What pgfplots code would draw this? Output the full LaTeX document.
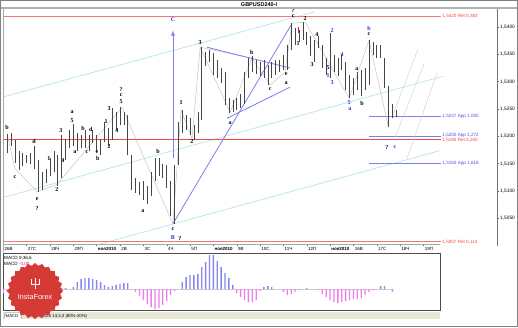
\documentclass[border=0pt]{standalone}
\usepackage{pgfplots}
\pgfplotsset{compat=1.18}
\usepackage{pgfplotstable}
\usepackage{fontspec}
\setmainfont{Liberation Sans}
\newfontfamily\wserif{Liberation Serif}
\usetikzlibrary{shapes.geometric}

\definecolor{barc}{RGB}{70,70,70}
\definecolor{wblue}{RGB}{50,50,225}
\definecolor{tblue}{RGB}{80,80,235}
\definecolor{lblue}{RGB}{125,125,240}
\definecolor{lcyan}{RGB}{175,225,225}
\definecolor{lred}{RGB}{240,120,120}
\definecolor{rred}{RGB}{245,70,70}
\definecolor{mpos}{RGB}{135,135,238}
\definecolor{mneg}{RGB}{238,125,238}
\definecolor{badge}{RGB}{214,58,52}
\definecolor{strip}{RGB}{232,230,212}

\newcommand{\wl}[4][black]{\node[text=#1,font=\wserif\bfseries\fontsize{6}{6}\selectfont,inner sep=0pt] at (axis cs:#2,#3) {#4};}
\newcommand{\lv}[3][tblue]{\node[text=#1,anchor=west,font=\fontsize{4.6}{5}\selectfont,inner sep=0.5pt] at (axis cs:112.7,#2) {#3};}

\pgfplotstableread{
i hi lo
0 1.5187 1.5171
1 1.5205 1.5169
2 1.5207 1.5182
3 1.5193 1.5152
4 1.5174 1.5138
5 1.5169 1.5145
6 1.5165 1.5152
7 1.5169 1.5150
8 1.5183 1.5141
9 1.5156 1.5099
10 1.5134 1.5101
11 1.5141 1.5114
12 1.5160 1.5128
13 1.5174 1.5134
14 1.5165 1.5110
15 1.5202 1.5123
16 1.5196 1.5156
17 1.5211 1.5178
18 1.5222 1.5183
19 1.5207 1.5174
20 1.5202 1.5178
21 1.5211 1.5178
22 1.5202 1.5174
23 1.5211 1.5187
24 1.5202 1.5171
25 1.5196 1.5165
26 1.5226 1.5189
27 1.5215 1.5182
28 1.5251 1.5193
29 1.5244 1.5211
30 1.5253 1.5220
31 1.5244 1.5220
32 1.5239 1.5165
33 1.5165 1.5101
34 1.5123 1.5097
35 1.5116 1.5092
36 1.5119 1.5083
37 1.5110 1.5077
38 1.5134 1.5090
39 1.5161 1.5119
40 1.5160 1.5128
41 1.5150 1.5123
42 1.5147 1.5106
43 1.5119 1.5055
44 1.5147 1.5040
45 1.5226 1.5147
46 1.5248 1.5207
47 1.5239 1.5211
48 1.5233 1.5202
49 1.5220 1.5194
50 1.5244 1.5207
51 1.5363 1.5229
52 1.5354 1.5328
53 1.5358 1.5336
54 1.5352 1.5312
55 1.5339 1.5306
56 1.5325 1.5297
57 1.5317 1.5257
58 1.5270 1.5242
59 1.5266 1.5244
60 1.5270 1.5248
61 1.5277 1.5251
62 1.5317 1.5259
63 1.5343 1.5306
64 1.5347 1.5317
65 1.5339 1.5314
66 1.5336 1.5310
67 1.5339 1.5306
68 1.5330 1.5294
69 1.5336 1.5306
70 1.5339 1.5312
71 1.5339 1.5317
72 1.5349 1.5321
73 1.5367 1.5321
74 1.5407 1.5358
75 1.5398 1.5367
76 1.5394 1.5372
77 1.5409 1.5376
78 1.5391 1.5367
79 1.5383 1.5347
80 1.5376 1.5336
81 1.5383 1.5361
82 1.5367 1.5325
83 1.5343 1.5312
84 1.5389 1.5306
85 1.5349 1.5317
86 1.5343 1.5310
87 1.5349 1.5321
88 1.5336 1.5284
89 1.5312 1.5270
90 1.5306 1.5275
91 1.5317 1.5284
92 1.5321 1.5273
93 1.5325 1.5284
94 1.5376 1.5294
95 1.5372 1.5349
96 1.5367 1.5343
97 1.5367 1.5343
98 1.5343 1.5288
99 1.5292 1.5217
100 1.5259 1.5233
101 1.5248 1.5235
}\bars

\pgfplotstableread{
i v
4 0.0001
5 0.0002
6 0.0002
7 0.0001
8 0.0001
15 0.0001
16 0.0001
18 0.0002
19 0.0007
20 0.0010
21 0.0011
22 0.0011
23 0.0010
24 0.0009
25 0.0007
26 0.0004
27 0.0002
28 0.0003
29 0.0004
30 0.0005
31 0.0006
32 0.0006
46 0.0007
47 0.0012
48 0.0014
49 0.0014
50 0.0015
51 0.0022
52 0.0027
53 0.0034
54 0.0034
55 0.0028
56 0.0022
57 0.0016
58 0.0011
59 0.0004
67 0.0002
68 0.0003
69 0.0002
78 0.0001
97 0.0003
98 0.0003
}\macdpos

\pgfplotstableread{
i v
0 -0.0004
1 -0.0003
2 -0.0002
3 -0.0001
9 -0.0001
10 -0.0003
11 -0.0004
12 -0.0003
13 -0.0002
14 -0.0001
34 -0.0003
35 -0.0007
36 -0.0011
37 -0.0015
38 -0.0018
39 -0.0020
40 -0.0019
41 -0.0016
42 -0.0012
43 -0.0006
44 -0.0002
60 -0.0004
61 -0.0008
62 -0.0011
63 -0.0013
64 -0.0013
65 -0.0011
66 -0.0002
72 -0.0003
73 -0.0006
74 -0.0005
75 -0.0003
76 -0.0001
81 -0.0001
82 -0.0005
83 -0.0008
84 -0.0011
85 -0.0013
86 -0.0014
87 -0.0013
88 -0.0012
89 -0.0011
90 -0.0010
91 -0.0010
92 -0.0009
93 -0.0006
94 -0.0003
95 -0.0001
100 -0.0003
}\macdneg

\begin{document}
\begin{tikzpicture}
\path[use as bounding box, fill=white] (0pt,0pt) rectangle (518pt,-327pt);
\draw[gray!60, line width=1.5pt] (0pt,-8pt) -- (518pt,-8pt);
\node[font=\bfseries\fontsize{5.5}{6}\selectfont, inner sep=0pt] at (259pt,-4.2pt) {GBPUSD240-I};

\begin{axis}[
  at={(3pt,-244pt)}, anchor=south west,
  scale only axis, width=494pt, height=235pt,
  xmin=-0.08, xmax=126.9, ymin=1.5003, ymax=1.5433,
  axis line style={draw=none},
  xtick={0,6,12,18,24,30,36,42,48,54,60,66,72,78,84,90,96,102,108},
  xticklabels={26В,27С,28Ч,29П,\textbf{ноя2010},2В,3С,4Ч,5П,\textbf{ноя2010},9В,10С,11Ч,12П,\textbf{ноя2010},16В,17С,18Ч,19П},
  xtick pos=lower, ytick pos=upper, yticklabel pos=upper,
  tick align=outside, major tick length=2pt,
  tick style={black!60, line width=0.4pt},
  xticklabel style={anchor=north west, xshift=0.3pt, font=\fontsize{4.5}{5}\selectfont, inner sep=0.8pt},
  ytick={1.505,1.51,1.515,1.52,1.525,1.53,1.535,1.54},
  scaled y ticks=false,
  yticklabel style={font=\fontsize{4.8}{5}\selectfont, inner sep=1pt, /pgf/number format/.cd, fixed, fixed zerofill, precision=4, use comma, 1000 sep={}},
  /pgf/number format/assume math mode=true,
]
% channel lines
\addplot[lcyan, line width=0.6pt] coordinates {(-0.08,1.5272) (80.1,1.5428)};
\addplot[lcyan, line width=0.6pt] coordinates {(-0.08,1.5088) (113.0,1.5310)};
\addplot[lcyan, line width=0.6pt] coordinates {(24.4,1.5002) (112.3,1.5174)};
% red retracement levels
\addplot[lred, line width=1pt] coordinates {(-0.08,1.5420) (112.5,1.5420)};
\addplot[rred, line width=0.8pt] coordinates {(-0.08,1.5195) (112.5,1.5195)};
\addplot[lred, line width=1pt] coordinates {(-0.08,1.5007) (112.5,1.5007)};
% blue projection levels
\addplot[lblue, line width=1pt] coordinates {(94.0,1.5237) (112.5,1.5237)};
\addplot[lblue, line width=1pt] coordinates {(94.0,1.5200) (112.5,1.5200)};
\addplot[lblue, line width=1pt] coordinates {(94.0,1.5150) (112.5,1.5150)};
% wave connector
\addplot[gray!45, line width=0.5pt] coordinates {(0.95,1.5205) (3.0,1.5141) (8.7,1.5099) (13.8,1.5112) (30.5,1.5253) (43.6,1.5040) (45.7,1.5248) (48.5,1.5196) (50.6,1.5363) (58.3,1.5244) (63.9,1.5343) (68.6,1.5294) (72.4,1.5317) (74.2,1.5407) (77.6,1.5409) (88.9,1.5270) (94.0,1.5376) (98.9,1.5220)};
\addplot[gray!45, line width=0.5pt] coordinates {(50.6,1.5363) (63.9,1.5343)};
% future lines
\addplot[gray!40, line width=0.4pt] coordinates {(99.9,1.5235) (106.6,1.5360)};
\addplot[gray!40, line width=0.4pt] coordinates {(100.7,1.5198) (108.1,1.5332)};
\addplot[gray!40, line width=0.4pt] coordinates {(103.8,1.5160) (111.5,1.5317)};
% blue wave lines
\addplot[lblue, line width=0.8pt, -latex] coordinates {(43.6,1.5161) (43.6,1.5394)};
\addplot[lblue, line width=0.8pt] coordinates {(43.6,1.5040) (74.0,1.5404)};
\addplot[lblue, line width=0.8pt] coordinates {(52.4,1.5363) (73.7,1.5325)};
\addplot[lblue, line width=0.8pt] coordinates {(57.5,1.5233) (73.7,1.5290)};
% price bars (high-low)
\addplot[draw=none, no markers, error bars/.cd, y dir=plus, y explicit, error mark=none, error bar style={draw=barc, line width=0.65pt}]
  table[x=i, y=lo, y error plus expr=\thisrow{hi}-\thisrow{lo}] {\bars};
\addplot[magenta, line width=0.9pt] coordinates {(75.8,1.5400) (75.8,1.5389)};
% wave labels
\wl{0.95}{1.5217}{b}
\wl{3.0}{1.5125}{c}
\wl{7.9}{1.5191}{d}
\wl{8.7}{1.5086}{e}
\wl{8.7}{1.5068}{?}
\wl{11.7}{1.5160}{1}
\wl{13.8}{1.5103}{2}
\wl{14.8}{1.5211}{3}
\wl{15.3}{1.5156}{4}
\wl{17.7}{1.5244}{a}
\wl{17.7}{1.5228}{5}
\wl{18.4}{1.5171}{a}
\wl{20.5}{1.5215}{b}
\wl{21.5}{1.5172}{c}
\wl{22.5}{1.5213}{d}
\wl{24.1}{1.5172}{e}
\wl{24.3}{1.5160}{b}
\wl{26.4}{1.5228}{1}
\wl{27.2}{1.5182}{2}
\wl{27.2}{1.5250}{3}
\wl{29.2}{1.5211}{4}
\wl{30.3}{1.5264}{5}
\wl{30.3}{1.5275}{c}
\wl{30.3}{1.5286}{?}
\wl{35.9}{1.5064}{a}
\wl{39.8}{1.5172}{b}
\wl{43.6}{1.5031}{c}
\wl[wblue]{43.6}{1.5015}{B}
\wl{45.4}{1.5013}{?}
\wl[wblue]{43.6}{1.5413}{C}
\wl{45.7}{1.5261}{1}
\wl{48.5}{1.5191}{2}
\wl{50.6}{1.5372}{3}
\wl{58.3}{1.5224}{a}
\wl{63.9}{1.5354}{b}
\wl{68.6}{1.5286}{c}
\wl{72.7}{1.5314}{e}
\wl{72.7}{1.5297}{a}
\wl{74.5}{1.5420}{c}
\wl{74.5}{1.5431}{?}
\wl{75.8}{1.5369}{1}
\wl{77.6}{1.5415}{2}
\wl{79.4}{1.5332}{3}
\wl{80.6}{1.5387}{4}
\wl{83.5}{1.5325}{5}
\wl[wblue]{83.5}{1.5312}{1}
\wl[wblue]{84.5}{1.5299}{3}
\wl[wblue]{84.5}{1.5394}{2}
\wl[wblue]{87.1}{1.5350}{4}
\wl[wblue]{88.9}{1.5262}{5}
\wl[wblue]{89.1}{1.5250}{a}
\wl{90.9}{1.5323}{a}
\wl{92.2}{1.5261}{b}
\wl{94.0}{1.5387}{c}
\wl[wblue]{94.0}{1.5398}{b}
\wl{98.6}{1.5180}{?}
\wl[wblue]{100.7}{1.5180}{c}
% level labels
\lv[rred]{1.5420}{1,5420 Ret 0,382}
\lv{1.5237}{1,5237 App 1,000}
\lv[rred]{1.5193}{1,5195 Ret 0,250}
\lv{1.5201}{1,5200 App 1,272}
\lv{1.5150}{1,5150 App 1,618}
\lv[rred]{1.5007}{1,5007 Ret 0,114}
\node[fill=yellow, anchor=west, font=\fontsize{4.8}{5}\selectfont, inner sep=0.7pt] at (axis cs:126.9,1.5237) {1,5237};
\end{axis}

% frame lines of the price window
\draw[black!55, line width=0.5pt] (497pt,-9pt) -- (497pt,-246pt);
\draw[black!35, line width=0.5pt] (3pt,-244pt) -- (440pt,-244pt);
\draw[black!35, line width=0.5pt] (3pt,-9pt) -- (3pt,-252pt);

% MACD window
\begin{axis}[
  at={(3pt,-310pt)}, anchor=south west,
  scale only axis, width=437pt, height=57pt,
  xmin=-0.08, xmax=112.26, ymin=-0.0021, ymax=0.0036,
  xtick=\empty, ytick=\empty,
  axis line style={black!70, line width=0.5pt},
]
\addplot[gray!40, line width=0.4pt] coordinates {(-0.08,0) (100.5,0)};
\addplot[ybar, bar width=1.4pt, bar shift=0pt, fill=mpos, draw=none] table[x=i, y=v] {\macdpos};
\addplot[ybar, bar width=1.3pt, bar shift=0pt, fill=mneg, draw=none] table[x=i, y=v] {\macdneg};
\end{axis}
\node[anchor=west, font=\fontsize{4.6}{5}\selectfont, inner sep=0pt] at (4pt,-258pt) {MACD 9,36,6};
\node[anchor=west, font=\fontsize{4.6}{5}\selectfont, inner sep=0pt] at (4pt,-264pt) {MACD \textcolor{magenta}{-0,00}};

% bottom tab strip
\fill[strip] (3pt,-312pt) rectangle (440pt,-319pt);
\draw[black!50, line width=0.4pt, fill=white] (4pt,-319pt) -- (5pt,-312.5pt) -- (20pt,-312.5pt) -- (22pt,-319pt);
\node[anchor=west, font=\fontsize{4.3}{5}\selectfont, inner sep=0pt] at (5.5pt,-316pt) {MACD};
\node[anchor=west, font=\fontsize{4.3}{5}\selectfont, inner sep=0pt] at (40pt,-316pt) {Stoch 13,3,3 (80\%-20\%)};

% badge
\node[star, star points=24, star point ratio=1.1, fill=badge, minimum size=56pt, inner sep=0pt] at (35pt,-291pt) {};
\draw[white, line width=0.9pt] (31pt,-279pt) -- (31pt,-284pt) -- (39pt,-284pt) -- (39pt,-279pt);
\draw[white, line width=0.9pt] (35pt,-278pt) -- (35pt,-289pt);
\node[text=white, font=\fontsize{7.3}{8}\selectfont, inner sep=0pt] at (35pt,-297pt) {InstaForex};

\draw[black!50, line width=0.8pt] (0.4pt,-0.4pt) rectangle (517.6pt,-326.6pt);
\end{tikzpicture}
\end{document}
